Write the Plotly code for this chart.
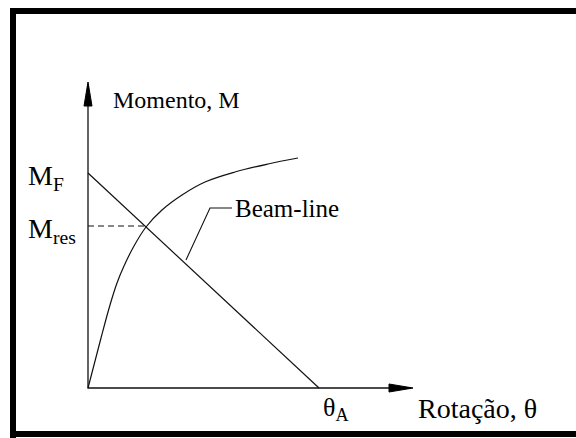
import plotly.graph_objects as go

# Moment–rotation curve of the connection (rotation, moment), arbitrary units
rotation = [0, 13, 22, 29, 36, 46, 58, 74, 94, 117, 147, 180, 210]
moment = [0, 50, 83, 105, 122, 142, 161, 178, 193, 206, 216, 224, 230]

# Beam-line end points: fixed-end moment M_F and free-end rotation theta_A
M_F = 215
theta_A = 231
M_res = 162

# Axis extents (arrow tips)
x_axis_end = 325
y_axis_end = 306
arrow_len = 24
arrow_half = 4

W, H = 576, 438
FONT = "Liberation Serif, Times New Roman, serif"
INK = "#111111"

# intersection of the beam-line with M_res
theta_res = theta_A * (1 - M_res / M_F)

fig = go.Figure()

# connection curve
fig.add_trace(go.Scatter(x=rotation, y=moment, mode="lines",
                         line=dict(color=INK, width=1.2, shape="spline", smoothing=1.0),
                         hoverinfo="skip"))
# beam-line
fig.add_trace(go.Scatter(x=[0, theta_A], y=[M_F, 0], mode="lines",
                         line=dict(color=INK, width=1.2), hoverinfo="skip"))
# M_res dashed guide
fig.add_trace(go.Scatter(x=[0, theta_res], y=[M_res, M_res], mode="lines",
                         line=dict(color=INK, width=1.1, dash="6px,4px"), hoverinfo="skip"))
# axes
fig.add_trace(go.Scatter(x=[0, 0, x_axis_end - 2], y=[y_axis_end - 2, 0, 0], mode="lines",
                         line=dict(color=INK, width=1.3), hoverinfo="skip"))
# arrowheads
fig.add_trace(go.Scatter(x=[-arrow_half, 0, arrow_half, -arrow_half],
                         y=[y_axis_end - arrow_len, y_axis_end, y_axis_end - arrow_len, y_axis_end - arrow_len],
                         mode="lines", fill="toself", fillcolor="black",
                         line=dict(color="black", width=1), hoverinfo="skip"))
fig.add_trace(go.Scatter(x=[x_axis_end - arrow_len, x_axis_end, x_axis_end - arrow_len, x_axis_end - arrow_len],
                         y=[-arrow_half, 0, arrow_half, -arrow_half],
                         mode="lines", fill="toself", fillcolor="black",
                         line=dict(color="black", width=1), hoverinfo="skip"))
# leader line for the beam-line label
fig.add_trace(go.Scatter(x=[98, 122, 144], y=[128, 180, 180], mode="lines",
                         line=dict(color=INK, width=1.1), hoverinfo="skip"))

# outer frame: top, left and bottom edges (open to the right)
def frame_line(x0, y0, x1, y1):
    fig.add_shape(type="line", xref="paper", yref="paper",
                  x0=x0 / W, x1=x1 / W, y0=1 - y0 / H, y1=1 - y1 / H,
                  line=dict(color="black", width=6))

frame_line(10, 11, W, 11)
frame_line(13, 8, 13, H)
frame_line(10, 434, W, 434)

def label(x, y, text, size, anchor="left"):
    fig.add_annotation(x=x, y=y, text=text, showarrow=False, xanchor=anchor,
                       yanchor="middle", font=dict(family=FONT, size=size, color="black"))

label(23, 288, "Momento, M", 24)
label(-62, 211, "M<sub>F</sub>", 28)
label(-62, 158, "M<sub>res</sub>", 28)
label(145, 180, "Beam-line", 25)
label(233, -21, "θ<sub>A</sub>", 26)
label(328, -20, "Rotação, θ", 28)

fig.update_layout(
    width=W, height=H, margin=dict(l=0, r=0, t=0, b=0),
    paper_bgcolor="white", plot_bgcolor="white", showlegend=False,
    xaxis=dict(range=[-88, W - 88], visible=False, fixedrange=True),
    yaxis=dict(range=[388 - H, 388], visible=False, fixedrange=True),
)

# keep the page exactly figure-sized (no scrollbars)
page_css = ("document.documentElement.style.overflow='hidden';"
            "document.body.style.overflow='hidden';"
            "document.body.style.margin='0';")
fig.write_html("out.html", post_script=page_css)
